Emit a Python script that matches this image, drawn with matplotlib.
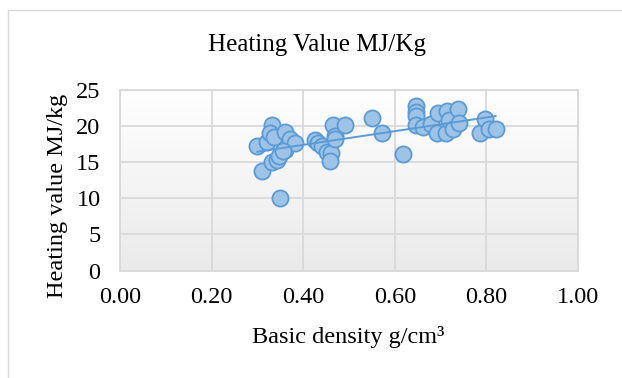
import numpy as np
import matplotlib
matplotlib.use("Agg")
import matplotlib.pyplot as plt
from matplotlib.colors import LinearSegmentedColormap
from matplotlib.patches import Rectangle

density = [0.300, 0.320, 0.311, 0.331, 0.327, 0.337, 0.331, 0.342, 0.349, 0.348, 0.360, 0.360, 0.371, 0.382, 0.355,
           0.425, 0.433, 0.440, 0.451, 0.460, 0.458, 0.464, 0.469, 0.469, 0.491,
           0.551, 0.573, 0.618,
           0.646, 0.646, 0.647, 0.647, 0.661, 0.678, 0.694, 0.693, 0.713, 0.711, 0.718, 0.727, 0.738, 0.740,
           0.785, 0.798, 0.805, 0.820]
heating = [17.2, 17.8, 13.8, 20.1, 19.0, 18.5, 15.1, 15.3, 10.1, 15.9, 19.2, 16.7, 18.2, 17.6, 16.5,
           18.1, 17.7, 17.2, 16.4, 16.3, 15.2, 20.2, 18.7, 18.2, 20.2,
           21.1, 19.0, 16.1,
           22.8, 22.0, 21.4, 20.1, 19.9, 20.3, 21.8, 19.1, 22.1, 19.1, 20.8, 19.6, 22.4, 20.4,
           19.1, 21.0, 19.6, 19.6]
x_ticks = [0.0, 0.2, 0.4, 0.6, 0.8, 1.0]
y_ticks = [0, 5, 10, 15, 20, 25]

plt.rcParams['font.family'] = ['Liberation Serif', 'DejaVu Serif']

W, H = 622, 378
fig = plt.figure(figsize=(W / 100, H / 100), dpi=100)
fig.patch.set_facecolor('white')

# outer chart frame
fig.patches.append(Rectangle((8 / W, 1 - 390 / H), 640 / W, 380.5 / H, transform=fig.transFigure,
                             fill=False, edgecolor='#d9d9d9', linewidth=1.0))

ax = fig.add_axes([120 / W, 1 - 270.6 / H, 458 / W, 180.6 / H])

grad = np.linspace(0, 1, 256).reshape(-1, 1)
cmap = LinearSegmentedColormap.from_list('bg', ['#ffffff', '#eaeaea'])
ax.imshow(grad, extent=[0, 1, 0, 25], aspect='auto', cmap=cmap, zorder=0, origin='upper')

ax.set_xlim(0, 1)
ax.set_ylim(0, 25)
ax.set_xticks(x_ticks)
ax.set_yticks(y_ticks)
ax.set_xticklabels([f"{v:.2f}" for v in x_ticks])
ax.set_yticklabels([str(v) for v in y_ticks])
ax.grid(True, color='#d9d9d9', linewidth=1.3, zorder=1)
ax.set_axisbelow(True)
for s in ax.spines.values():
    s.set_color('#d9d9d9')
    s.set_linewidth(1.3)
ax.tick_params(length=0, labelsize=17.5, colors='black', pad=14)
ax.tick_params(axis='x', pad=12)

ax.scatter(density, heating, s=135, facecolor='#9dc3e6', edgecolor='#5b9bd5', linewidth=1.3, zorder=3)

coef = np.polyfit(density, heating, 1)
xl = np.array([min(density), max(density)])
ax.plot(xl, np.polyval(coef, xl), color='#5b9bd5', linewidth=1.4, zorder=4)

fig.text(317 / W, 1 - 45 / H, 'Heating Value MJ/Kg', ha='center', va='center', fontsize=18)
fig.text(348 / W, 1 - 337 / H, 'Basic density g/cm³', ha='center', va='center', fontsize=17.5)
fig.text(57 / W, 1 - 196 / H, 'Heating value MJ/kg', ha='center', va='center', rotation=90, fontsize=17.5)

fig.savefig('out.png', dpi=100)
